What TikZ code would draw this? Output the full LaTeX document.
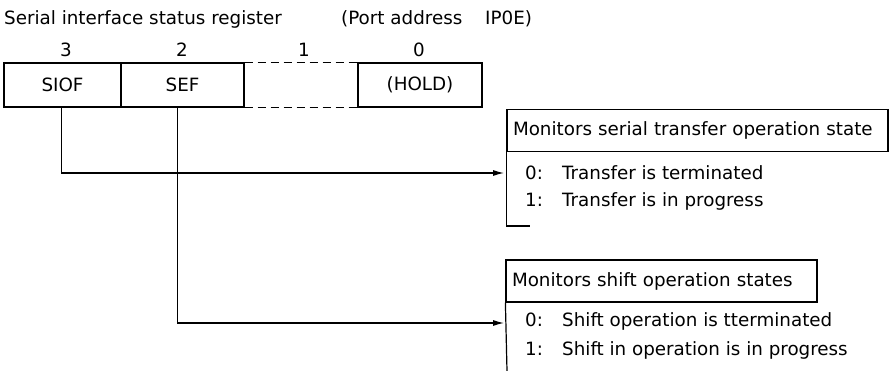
\documentclass[tikz,border=0pt]{standalone}
\usepackage{fontspec}
\setmainfont{DejaVu Sans}
\usetikzlibrary{arrows.meta}
\begin{document}
\begin{tikzpicture}[x=1pt,y=-1pt,
  every node/.style={font=\fontsize{18.3}{22}\selectfont},
  line/.style={line width=1.2pt},
  cell/.style={draw,line width=1.2pt,inner sep=0pt,minimum height=44pt},
  txt/.style={inner sep=0pt},
  item/.style={inner sep=0pt,anchor=west},
  hdr/.style={draw,line width=1.2pt,inner xsep=6pt,inner ysep=0pt,minimum height=42pt,align=left},
  arrow/.style={line width=1.2pt,-{Latex[length=11pt,width=6pt]},shorten >=3pt}]
\useasboundingbox (0,0) rectangle (889,371);
% title
\node[txt,anchor=west] (title) at (4,19) {Serial interface status register};
\node[txt,anchor=west] (port) at (341,19) {(Port address};
\node[txt,anchor=west] (portid) at (485,19) {IP0E)};
% register cells
\node[cell,minimum width=117pt] (c3) at (62.5,85) {SIOF};
\node[cell,minimum width=123pt] (c2) at (182.5,85) {SEF};
\node[cell,minimum width=124pt] (c0) at (420,85) {(HOLD)};
\draw[line,dash pattern=on 8pt off 5pt] (c2.north east) -- (c0.north west);
\draw[line,dash pattern=on 8pt off 5pt] (c2.south east) -- (c0.south west);
% bit numbers
\node[txt] (b3) at (66,50) {3};
\node[txt] (b2) at (182,50) {2};
\node[txt] (b1) at (304,50) {1};
\node[txt] (b0) at (419,50) {0};
% box 1
\node[hdr,minimum width=381pt,text width=369pt] (h1) at (697.5,130.5) {Monitors serial transfer operation state};
\coordinate (h1end) at (530,226);
\draw[line] (h1.south west) |- (h1end);
\node[item] (i10) at (525,173) {\makebox[37pt][l]{0:}Transfer is terminated};
\node[item] (i11) at (525,201) {\makebox[37pt][l]{1:}Transfer is in progress};
% box 2
\node[hdr,minimum width=311pt,text width=299pt] (h2) at (661.5,281) {Monitors shift operation states};
\coordinate (h2end) at (507,371);
\draw[line] (h2.south west) -- (h2end);
\node[item] (i20) at (525,321) {\makebox[37pt][l]{0:}Shift operation is tterminated};
\node[item] (i21) at (525,350) {\makebox[37pt][l]{1:}Shift in operation is in progress};
% connectors
\coordinate (a1) at (507,173);
\coordinate (a2) at (507,323);
\draw[arrow] ([xshift=-1pt]c3.south) |- (a1);
\draw[arrow] ([xshift=-5pt]c2.south) |- (a2);
\end{tikzpicture}
\end{document}
